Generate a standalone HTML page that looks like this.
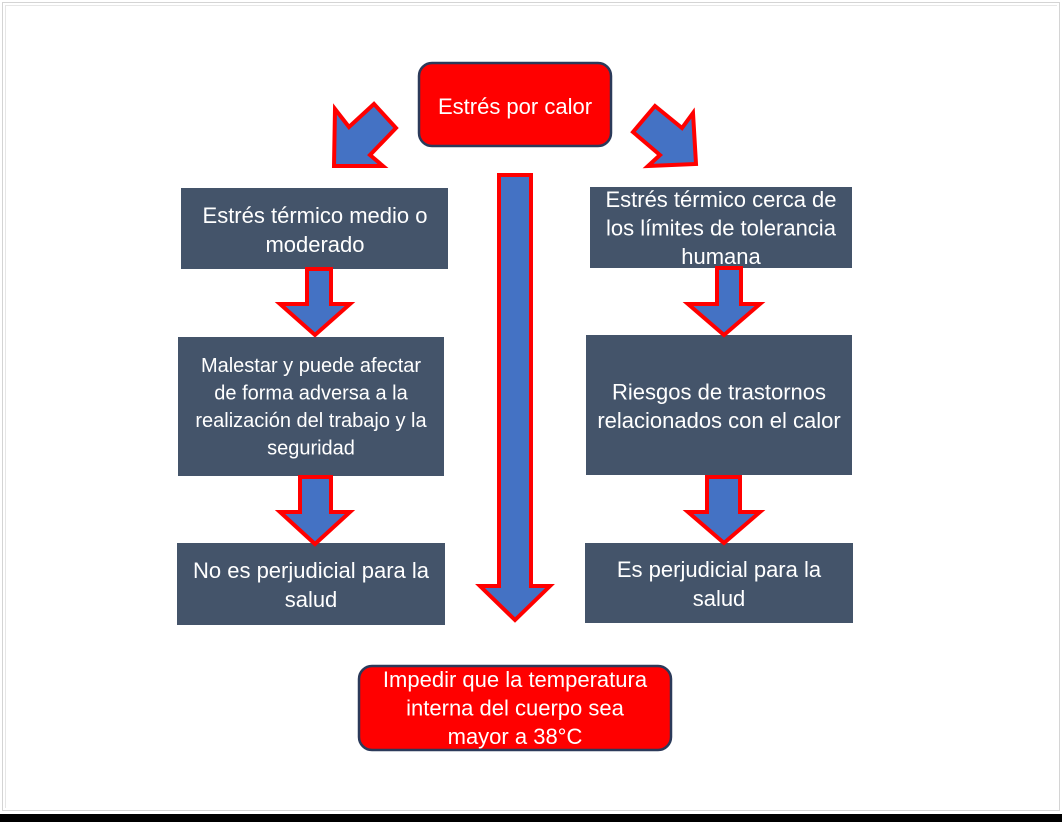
<!DOCTYPE html>
<html>
<head>
<meta charset="utf-8">
<style>
  html, body { margin:0; padding:0; background:#fff; }
  body { width:1062px; height:822px; overflow:hidden; }
  svg { display:block; }
  text { font-family: "Liberation Sans", Arial, sans-serif; fill:#fff; }
</style>
</head>
<body>
<svg width="1062" height="822" viewBox="0 0 1062 822" xmlns="http://www.w3.org/2000/svg">
  <rect x="0" y="0" width="1062" height="822" fill="#ffffff"/>
  <!-- frame -->
  <rect x="2.5" y="2.5" width="1057" height="808" fill="none" stroke="#d4d4d4" stroke-width="1"/>
  <line x1="5.5" y1="5" x2="5.5" y2="808" stroke="#e6e6e6" stroke-width="1"/>
  <line x1="5" y1="5.5" x2="1057" y2="5.5" stroke="#e6e6e6" stroke-width="1"/>
  <rect x="0" y="814" width="1062" height="8" fill="#000"/>

  <!-- top red box -->
  <rect x="419" y="63" width="192" height="83" rx="13" ry="13" fill="#ff0000" stroke="#2b3a5a" stroke-width="2.5"/>
  <text x="515" y="114" font-size="22" text-anchor="middle">Estrés por calor</text>

  <!-- diagonal arrows -->
  <polygon points="335,109 349,127 374,104 396,128 370,155 383,166 334,166" fill="#4472c4" stroke="#ff0000" stroke-width="4" stroke-linejoin="miter"/>
  <polygon points="633,132 655,106 682,128 693,113 696,164 648,166 660,155" fill="#4472c4" stroke="#ff0000" stroke-width="4" stroke-linejoin="miter"/>

  <!-- center long arrow -->
  <polygon points="499,175 531,175 531,586 550,586 515,620 480,586 499,586" fill="#4472c4" stroke="#ff0000" stroke-width="4" stroke-linejoin="miter"/>

  <!-- left column -->
  <rect x="181" y="188" width="267" height="81" fill="#44546a"/>
  <text x="315" y="223" font-size="22" text-anchor="middle">Estrés térmico medio o</text>
  <text x="315" y="252" font-size="22" text-anchor="middle">moderado</text>

  <rect x="178" y="337" width="266" height="139" fill="#44546a"/>
  <text x="311" y="372" font-size="20" text-anchor="middle">Malestar y puede afectar</text>
  <text x="311" y="399.5" font-size="20" text-anchor="middle">de forma adversa a la</text>
  <text x="311" y="427" font-size="20" text-anchor="middle">realización del trabajo y la</text>
  <text x="311" y="454.5" font-size="20" text-anchor="middle">seguridad</text>

  <rect x="177" y="543" width="268" height="82" fill="#44546a"/>
  <text x="311" y="578" font-size="22" text-anchor="middle">No es perjudicial para la</text>
  <text x="311" y="607" font-size="22" text-anchor="middle">salud</text>

  <polygon points="307,269 331,269 331,304 350,304 315,335 280,304 307,304" fill="#4472c4" stroke="#ff0000" stroke-width="4" stroke-linejoin="miter"/>
  <polygon points="300,477 331,477 331,512 350,512 315,544 280,512 300,512" fill="#4472c4" stroke="#ff0000" stroke-width="4" stroke-linejoin="miter"/>

  <!-- right column -->
  <rect x="590" y="187" width="262" height="81" fill="#44546a"/>
  <text x="721" y="207" font-size="22" text-anchor="middle">Estrés térmico cerca de</text>
  <text x="721" y="235.5" font-size="22" text-anchor="middle">los límites de tolerancia</text>
  <text x="721" y="264" font-size="22" text-anchor="middle">humana</text>

  <rect x="586" y="335" width="266" height="140" fill="#44546a"/>
  <text x="719" y="399.5" font-size="22" text-anchor="middle">Riesgos de trastornos</text>
  <text x="719" y="428" font-size="22" text-anchor="middle">relacionados con el calor</text>

  <rect x="585" y="543" width="268" height="80" fill="#44546a"/>
  <text x="719" y="577" font-size="22" text-anchor="middle">Es perjudicial para la</text>
  <text x="719" y="606" font-size="22" text-anchor="middle">salud</text>

  <polygon points="717,268 741,268 741,304 760,304 724,335 688,304 717,304" fill="#4472c4" stroke="#ff0000" stroke-width="4" stroke-linejoin="miter"/>
  <polygon points="707,477 740,477 740,512 760,512 724,543 688,512 707,512" fill="#4472c4" stroke="#ff0000" stroke-width="4" stroke-linejoin="miter"/>

  <!-- bottom red box -->
  <rect x="359" y="666" width="312" height="84" rx="13" ry="13" fill="#ff0000" stroke="#2b3a5a" stroke-width="2.5"/>
  <text x="515" y="687" font-size="22" text-anchor="middle">Impedir que la temperatura</text>
  <text x="515" y="715.5" font-size="22" text-anchor="middle">interna del cuerpo sea</text>
  <text x="515" y="744" font-size="22" text-anchor="middle">mayor a 38°C</text>
</svg>
</body>
</html>
